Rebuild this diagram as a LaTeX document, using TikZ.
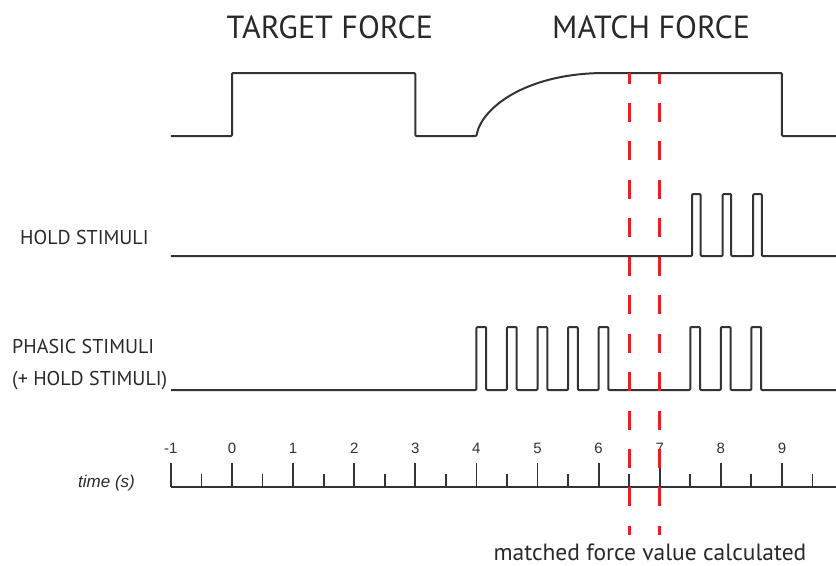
\documentclass[tikz,border=0pt]{standalone}
\usepackage{fontspec}
\setmainfont{PT Sans}
\newfontfamily\axisfont{Liberation Sans}
\usepackage{xcolor}
\definecolor{colorTrace}{HTML}{333333}
\definecolor{colorMatch}{HTML}{EE1C24}
\usetikzlibrary{positioning}
\tikzset{
  trace/.style={colorTrace, line width=2pt, line join=round, rounded corners=1pt},
  marker/.style={colorMatch, line width=3pt, dash pattern=on 19pt off 19.45pt, dash phase=8.5pt},
  title/.style={font=\fontsize{32}{36}\selectfont, anchor=base, inner sep=0pt, text=colorTrace!80!black},
  rowlabel/.style={font=\fontsize{20}{24}\selectfont, anchor=base west, inner sep=0pt, text=colorTrace!80!black},
  ticklabel/.style={font=\axisfont\fontsize{15}{17}\selectfont, anchor=base, inner sep=0pt, text=colorTrace},
}

\begin{document}
\begin{tikzpicture}[x=61.1pt, y=-1pt]
\useasboundingbox (-3.797,0) rectangle (9.885,565);

% titles
\node[title] (target) at (1.6,38) {TARGET FORCE};
\node[title] (match) at (6.86,38) {MATCH FORCE};

% row labels
\node[rowlabel] (hold) at (-3.47,244) {HOLD STIMULI};
\node[rowlabel] (phasic) at (-3.60,353) {PHASIC STIMULI};
\node[rowlabel, anchor=base west] (phasichold) at ([yshift=-32pt]phasic.base west) {(+ HOLD STIMULI)};
\node[rowlabel, font=\axisfont\itshape\fontsize{17}{20}\selectfont] (timelbl) at (-2.52,487) {time (s)};

% force
\draw[trace] (-1,136) -- (0,136) -- (0,73) -- (3,73) -- (3,136) -- (4,136)
  .. controls (4.08,108) and (4.8,74) .. (6.07,73) -- (9,73) -- (9,136) -- (9.885,136);

% hold stimuli
\draw[trace] (-1,256) \foreach \s in {7.53,8.03,8.53} { -- (\s,256) -- (\s,194) -- (\s+0.14,194) -- (\s+0.14,256) } -- (9.885,256);

% phasic stimuli
\draw[trace] (-1,390) \foreach \s in {4,4.5,5,5.5,6,7.5,8,8.5} { -- (\s,390) -- (\s,327) -- (\s+0.16,327) -- (\s+0.16,390) } -- (9.885,390);

% time axis
\coordinate (axisl) at (-1,487);
\coordinate (axisr) at (9.885,487);
\draw[trace, rounded corners=0pt] (axisl) -- (axisr);
\foreach \t in {-1,...,9} {
  \draw[trace, line width=1.8pt] (\t,487) -- (\t,463);
  \node[ticklabel] (tick\t) at (\t,453) {\t};
}
\foreach \t in {-0.5,0.5,...,9.5}
  \draw[trace, line width=1.8pt] (\t,487) -- (\t,474);

% matched window
\coordinate (mlow) at (6.5,73);
\coordinate (mlowend) at (6.5,535);
\coordinate (mhigh) at (7,73);
\coordinate (mhighend) at (7,535);
\draw[marker] (mlow) -- (mlowend);
\draw[marker] (mhigh) -- (mhighend);
\node[font=\fontsize{23.5}{26}\selectfont, anchor=base, inner sep=0pt, text=colorTrace!80!black] (matched) at (6.84,560) {matched force value calculated};

\end{tikzpicture}
\end{document}
